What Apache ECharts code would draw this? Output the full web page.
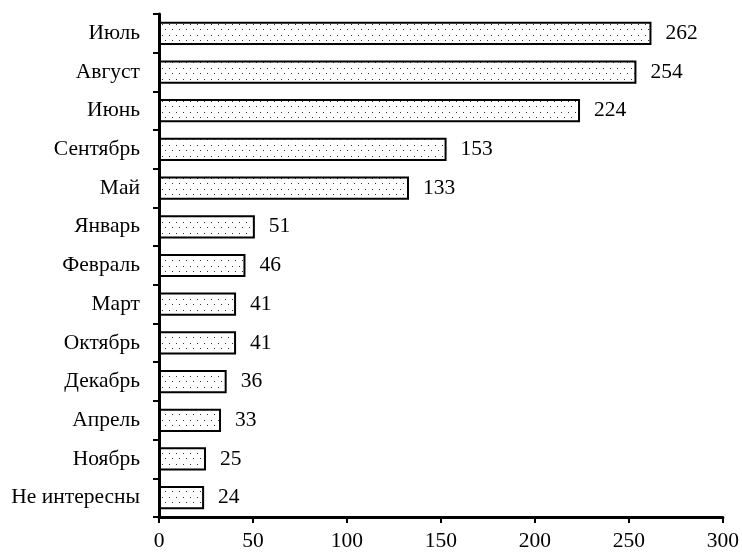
<!DOCTYPE html>
<html>
<head>
<meta charset="utf-8">
<script src="https://cdn.jsdelivr.net/npm/echarts@6/dist/echarts.min.js"></script>
<style>
  html, body { margin: 0; padding: 0; background: #fff; overflow: hidden; }
  #chart { width: 742px; height: 552px; }
</style>
</head>
<body>
<div id="chart"></div>
<script>
const months = ['Июль', 'Август', 'Июнь', 'Сентябрь', 'Май', 'Январь', 'Февраль', 'Март', 'Октябрь', 'Декабрь', 'Апрель', 'Ноябрь', 'Не интересны'];
const counts = [262, 254, 224, 153, 133, 51, 46, 41, 41, 36, 33, 25, 24];
const xTicks = [0, 50, 100, 150, 200, 250, 300];

// Dotted fill tile for the bars
function dotTile() {
  const c = document.createElement('canvas');
  c.width = 7; c.height = 11;
  const g = c.getContext('2d');
  g.fillStyle = '#ffffff';
  g.fillRect(0, 0, 7, 11);
  g.fillStyle = '#333333';
  g.fillRect(1, 2, 1, 1);
  g.fillRect(4, 7, 1, 1);
  return c;
}

const font = '"Liberation Serif", "Times New Roman", serif';
const chart = echarts.init(document.getElementById('chart'), null, { renderer: 'canvas', width: 742, height: 552 });
chart.setOption({
  animation: false,
  backgroundColor: '#ffffff',
  textStyle: { fontFamily: font },
  grid: { left: 159, right: 16, top: 14, bottom: 35, containLabel: false },
  xAxis: {
    type: 'value',
    min: xTicks[0],
    max: xTicks[xTicks.length - 1],
    interval: 50,
    splitLine: { show: false },
    axisLine: { show: true, lineStyle: { color: '#000', width: 3 } },
    axisTick: { show: true, length: 6, lineStyle: { color: '#000', width: 2 } },
    axisLabel: { color: '#000', fontSize: 21.5, fontFamily: font, margin: 13 }
  },
  yAxis: {
    type: 'category',
    data: months,
    inverse: true,
    axisLine: { show: true, lineStyle: { color: '#000', width: 3 } },
    axisTick: { show: true, length: 6, alignWithLabel: false, lineStyle: { color: '#000', width: 2 } },
    axisLabel: { color: '#000', fontSize: 21.5, fontFamily: font, margin: 19 }
  },
  series: [{
    type: 'bar',
    data: counts,
    barCategoryGap: '40%',
    itemStyle: {
      color: { image: dotTile(), repeat: 'repeat' },
      borderColor: '#000',
      borderWidth: 2
    },
    label: {
      show: true,
      position: 'right',
      distance: 14,
      color: '#000',
      fontSize: 21.5,
      fontFamily: font
    }
  }]
});
</script>
</body>
</html>
